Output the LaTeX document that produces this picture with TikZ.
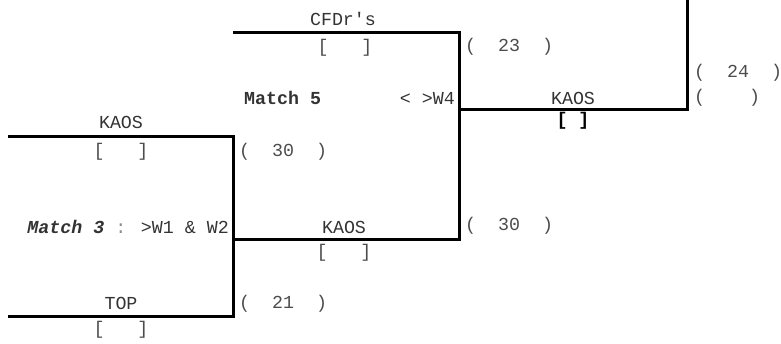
\documentclass[tikz,border=0pt]{standalone}
\usepackage{fontspec}
\setmainfont{Liberation Mono}
\usepackage{tikz}
\usetikzlibrary{positioning,calc}

\tikzset{
  bline/.style={line width=3pt},
  team/.style={inner sep=0pt, text=black!80},
  seed/.style={inner sep=0pt, text=black!70},
  score/.style={inner sep=0pt, anchor=west, text=black!70},
}

\begin{document}
\begin{tikzpicture}[x=1pt,y=-1pt,every node/.style={font=\fontsize{18.3}{22}\selectfont}]
    \useasboundingbox (0,0) rectangle (781,344);

    % Match 3
    \coordinate (m3a) at (8,137);
    \coordinate (m3ae) at (233,137);
    \coordinate (m3b) at (8,317);
    \coordinate (m3be) at (233,317);
    \coordinate (m3w) at (233,240);
    \draw[bline] (m3a) -- (m3ae) -- (m3be) -- (m3b);
    \node[team] (kaos1) at (121,122) {KAOS};
    \node[seed] (seed1) at (121,152) {[\ \ \ ]};
    \node[team,anchor=east] (m3) at (229,227) {\textbf{\textit{Match 3}} \textcolor{black!45}{:} >W1 \& W2};
    \node[team] (top) at (121,303) {TOP};
    \node[seed] (seed2) at (121,330) {[\ \ \ ]};
    \node[score] (sc1) at (239,152) {(\ \ 30\ \ )};
    \node[score] (sc2) at (239,304) {(\ \ 21\ \ )};

    % Match 5
    \coordinate (m5a) at (233,33);
    \coordinate (m5ae) at (459,33);
    \coordinate (m5be) at (459,240);
    \coordinate (m5w) at (459,110);
    \draw[bline] (m5a) -- (m5ae) -- (m5be) -- (m3w);
    \node[team] (cfdr) at (343,19) {CFDr\textquotesingle s};
    \node[seed] (seed3) at (345,48) {[\ \ \ ]};
    \node[team,anchor=west] (m5) at (244,98) {\textbf{Match 5}};
    \node[team,anchor=east] (w4) at (455,98) {<\ >W4};
    \node[team] (kaos2) at (344,227) {KAOS};
    \node[seed] (seed4) at (344,253) {[\ \ \ ]};
    \node[score] (sc3) at (465,47) {(\ \ 23\ \ )};
    \node[score] (sc4) at (465,226) {(\ \ 30\ \ )};

    % winner
    \coordinate (fin) at (687,110);
    \coordinate (fint) at (687,0);
    \draw[bline] (m5w) -- (fin) -- (fint);
    \node[team] (kaos3) at (573,98) {KAOS};
    \node[inner sep=0pt,font=\fontsize{18.3}{22}\selectfont\bfseries] (seed5) at (573,121) {[\ ]};
    \node[score] (sc5) at (694,73) {(\ \ 24\ \ )};
    \node[score] (sc6) at (694,98) {(\ \ \ \ )};
\end{tikzpicture}
\end{document}
